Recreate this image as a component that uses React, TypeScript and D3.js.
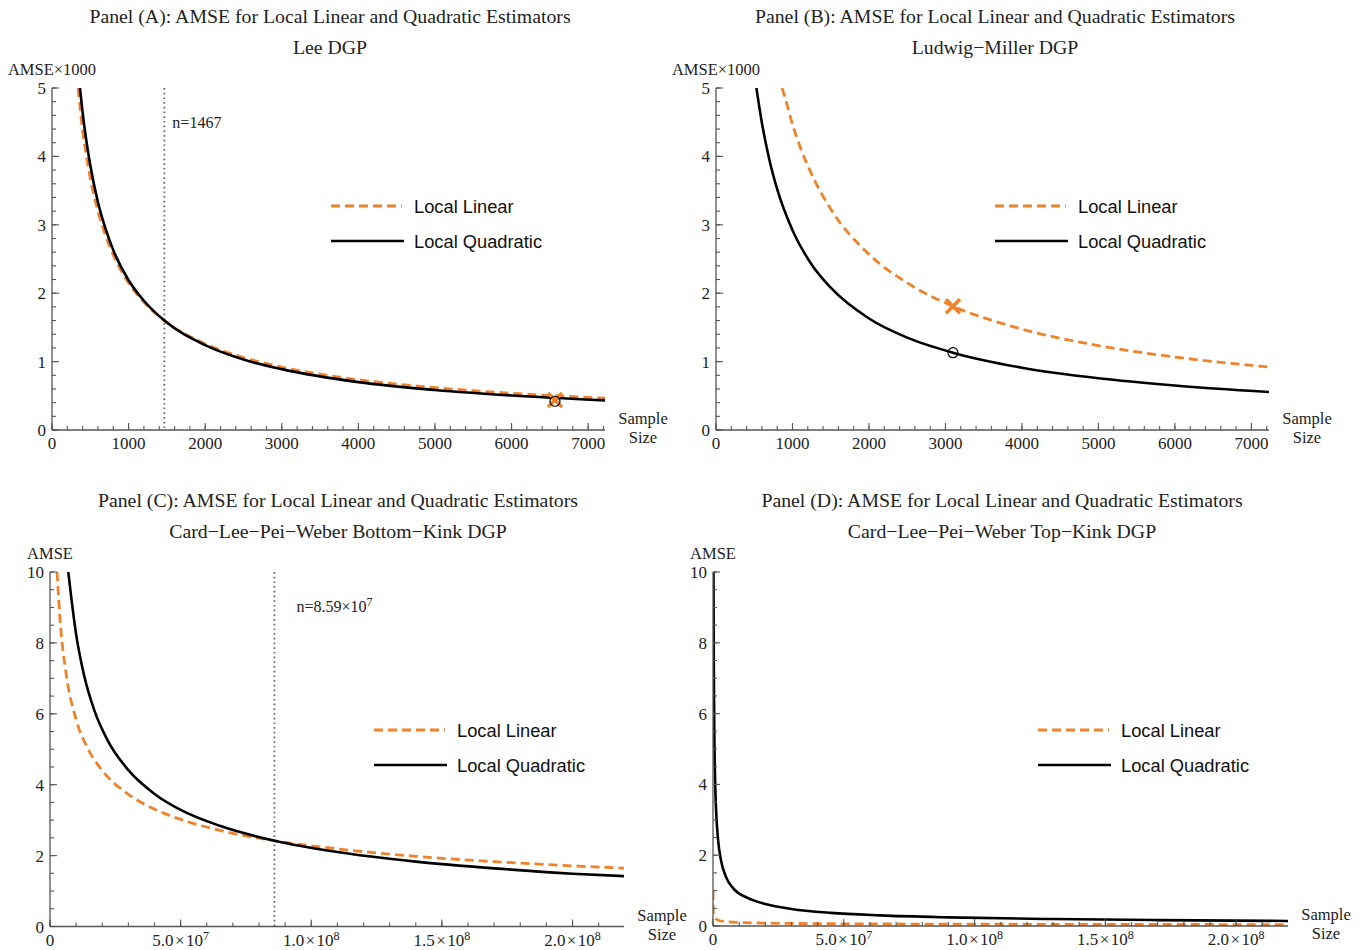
import React from "react";
import * as d3 from "d3";

const ORANGE = "#F0822A";
const AXIS = "#555";

// Panel A: Lee DGP, AMSE x 1000 against sample size
const leeLinear: [number, number][] = [
  [340, 5.0], [400, 4.38], [450, 4.0], [500, 3.68], [600, 3.2], [700, 2.84], [800, 2.56],
  [1000, 2.15], [1200, 1.87], [1467, 1.6], [2000, 1.26], [2500, 1.06], [3000, 0.92],
  [4000, 0.735], [5000, 0.62], [6000, 0.537], [7220, 0.465],
];
const leeQuad: [number, number][] = [
  [365, 5.0], [400, 4.64], [450, 4.22], [500, 3.87], [600, 3.33], [700, 2.94], [800, 2.63],
  [1000, 2.19], [1200, 1.89], [1467, 1.6], [2000, 1.24], [2500, 1.03], [3000, 0.89],
  [4000, 0.7], [5000, 0.585], [6000, 0.504], [7220, 0.433],
];
const leeMarker = { n: 6567, linear: 0.44, quad: 0.42 };

// Panel B: Ludwig-Miller DGP
const lmLinear: [number, number][] = [
  [863, 5.0], [900, 4.87], [1000, 4.47], [1100, 4.14], [1250, 3.74], [1500, 3.23],
  [2000, 2.57], [2500, 2.15], [3098, 1.81], [4000, 1.475], [5000, 1.234], [6000, 1.067],
  [7230, 0.92],
];
const lmQuad: [number, number][] = [
  [528, 5.0], [600, 4.49], [700, 3.94], [800, 3.52], [1000, 2.92], [1250, 2.42],
  [1500, 2.08], [2000, 1.63], [2500, 1.35], [3098, 1.13], [4000, 0.91], [5000, 0.756],
  [6000, 0.65], [7230, 0.555],
];
const lmMarker = { n: 3098, linear: 1.81, quad: 1.13 };

// Panel C: Card-Lee-Pei-Weber bottom-kink DGP
const bottomLinear: [number, number][] = [
  [2.7e6, 10.0], [4e6, 8.51], [6e6, 7.21], [1e7, 5.84], [1.5e7, 4.95], [2e7, 4.4],
  [3e7, 3.73], [4e7, 3.31], [5e7, 3.02], [6.5e7, 2.71], [8.59e7, 2.42], [1.1e8, 2.19],
  [1.4e8, 1.98], [1.7e8, 1.83], [2.0e8, 1.71], [2.2e8, 1.645],
];
const bottomQuad: [number, number][] = [
  [7.0e6, 10.0], [8e6, 9.37], [1e7, 8.24], [1.3e7, 7.1], [1.7e7, 6.09], [2.2e7, 5.26],
  [3e7, 4.41], [4e7, 3.74], [5e7, 3.29], [6.5e7, 2.84], [8.59e7, 2.42], [1.1e8, 2.1],
  [1.4e8, 1.83], [1.7e8, 1.64], [2.0e8, 1.49], [2.2e8, 1.42],
];

// Panel D: Card-Lee-Pei-Weber top-kink DGP
const topLinear: [number, number][] = [
  [5e3, 0.99], [2e4, 0.65], [1e5, 0.4], [5e5, 0.25], [2e6, 0.164], [5e6, 0.124],
  [1.2e7, 0.096], [3e7, 0.073], [6e7, 0.059], [1e8, 0.051], [1.5e8, 0.045], [2.2e8, 0.04],
];
const topQuad: [number, number][] = [
  [1.9e5, 10.0], [3e5, 7.47], [5e5, 5.5], [8e5, 4.15], [1.2e6, 3.25], [2e6, 2.39],
  [3e6, 1.88], [5e6, 1.38], [8e6, 1.04], [1.3e7, 0.8], [2e7, 0.62], [3e7, 0.48],
  [4.5e7, 0.37], [6.38e7, 0.3], [9e7, 0.244], [1.3e8, 0.196], [1.7e8, 0.167], [2.2e8, 0.143],
];

const smallXTicks = [0, 1000, 2000, 3000, 4000, 5000, 6000, 7000];
const bigXTicks = [0, 5e7, 1e8, 1.5e8, 2e8];
const bigXLabels = [["0", ""], ["5.0\u200a×\u200a10", "7"], ["1.0\u200a×\u200a10", "8"], ["1.5\u200a×\u200a10", "8"], ["2.0\u200a×\u200a10", "8"]];
const yTicks5 = [0, 1, 2, 3, 4, 5];
const yTicks10 = [0, 2, 4, 6, 8, 10];

type PanelProps = {
  id: string;
  box: { left: number; right: number; top: number; bottom: number };
  xMax: number;
  yMax: number;
  xTicks: number[];
  xLabels: string[][];
  xMinor: number;
  yTicks: number[];
  yMinor: number;
  title: string;
  subtitle: string;
  titleX: number;
  yLabel: string;
  linear: [number, number][];
  quad: [number, number][];
  legend: { x: number; y: number };
  vline?: { n: number; label: string; sup?: string; dx: number };
  marker?: { n: number; linear: number; quad: number };
};

const Panel = (p: PanelProps) => {
  const { left, right, top, bottom } = p.box;
  const x = d3.scaleLinear().domain([0, p.xMax]).range([left, right]);
  const y = d3.scaleLinear().domain([0, p.yMax]).range([bottom, top]);
  const line = d3
    .line<[number, number]>()
    .x((d) => x(d[0]))
    .y((d) => y(d[1]))
    .curve(d3.curveMonotoneX);
  const xMinor = d3.range(0, p.xMax + 1e-9, p.xMinor);
  const yMinor = d3.range(0, p.yMax + 1e-9, p.yMinor);
  const serif = "'Liberation Serif', 'Times New Roman', serif";
  const sans = "'Liberation Sans', Arial, sans-serif";

  return (
    <g>
      <defs>
        <clipPath id={`clip-${p.id}`}>
          <rect x={left} y={top} width={right - left} height={bottom - top} />
        </clipPath>
      </defs>
      <text x={p.titleX} y={top - 65} textAnchor="middle" fontFamily={serif} fontSize={19.8} fill="#222">
        {p.title}
      </text>
      <text x={p.titleX} y={top - 34} textAnchor="middle" fontFamily={serif} fontSize={19.8} fill="#222">
        {p.subtitle}
      </text>

      {p.vline && (
        <g>
          <line
            x1={x(p.vline.n)} x2={x(p.vline.n)} y1={top} y2={bottom}
            stroke="#666" strokeWidth={1.7} strokeDasharray="1.7 3"
          />
          <text x={x(p.vline.n) + p.vline.dx} y={top + 40} fontFamily={serif} fontSize={16} fill="#222">
            {p.vline.label}
            {p.vline.sup && <tspan dy={-6} fontSize={12}>{p.vline.sup}</tspan>}
          </text>
        </g>
      )}

      <g clipPath={`url(#clip-${p.id})`}>
        <path d={line(p.linear) ?? ""} fill="none" stroke={ORANGE} strokeWidth={2.8} strokeDasharray="9 5" />
        <path d={line(p.quad) ?? ""} fill="none" stroke="#000" strokeWidth={2.6} />
      </g>

      {p.marker && (
        <g>
          <g stroke={ORANGE} strokeWidth={3.5} strokeLinecap="butt">
            <line x1={x(p.marker.n) - 7} x2={x(p.marker.n) + 7} y1={y(p.marker.linear) - 7} y2={y(p.marker.linear) + 7} />
            <line x1={x(p.marker.n) - 7} x2={x(p.marker.n) + 7} y1={y(p.marker.linear) + 7} y2={y(p.marker.linear) - 7} />
          </g>
          <circle cx={x(p.marker.n)} cy={y(p.marker.quad)} r={5} fill="none" stroke="#000" strokeWidth={1.2} />
        </g>
      )}

      {/* axes */}
      <line x1={left} x2={right} y1={bottom} y2={bottom} stroke={AXIS} strokeWidth={1.3} />
      <line x1={left} x2={left} y1={top} y2={bottom} stroke={AXIS} strokeWidth={1.3} />
      {xMinor.map((t) => (
        <line key={`xm${t}`} x1={x(t)} x2={x(t)} y1={bottom} y2={bottom - 4} stroke={AXIS} strokeWidth={1.1} />
      ))}
      {p.xTicks.map((t) => (
        <line key={`xM${t}`} x1={x(t)} x2={x(t)} y1={bottom} y2={bottom - 7} stroke={AXIS} strokeWidth={1.1} />
      ))}
      {p.xTicks.map((t, i) => (
        <text key={`xl${t}`} x={x(t)} y={bottom + 19} textAnchor="middle" fontFamily={serif} fontSize={17} fill="#222">
          {p.xLabels[i][0]}
          {p.xLabels[i][1] && <tspan dy={-6} fontSize={12}>{p.xLabels[i][1]}</tspan>}
        </text>
      ))}
      {yMinor.map((t) => (
        <line key={`ym${t}`} x1={left} x2={left + 4} y1={y(t)} y2={y(t)} stroke={AXIS} strokeWidth={1.1} />
      ))}
      {p.yTicks.map((t) => (
        <line key={`yM${t}`} x1={left} x2={left + 7} y1={y(t)} y2={y(t)} stroke={AXIS} strokeWidth={1.1} />
      ))}
      {p.yTicks.map((t) => (
        <text key={`yl${t}`} x={left - 6} y={y(t) + 6} textAnchor="end" fontFamily={serif} fontSize={17} fill="#222">
          {t}
        </text>
      ))}
      <text x={left} y={top - 13} textAnchor="middle" fontFamily={serif} fontSize={16.5} fill="#222">
        {p.yLabel}
      </text>
      <text x={right + 38} y={bottom - 6} textAnchor="middle" fontFamily={serif} fontSize={16.5} fill="#222">
        Sample
      </text>
      <text x={right + 38} y={bottom + 13} textAnchor="middle" fontFamily={serif} fontSize={16.5} fill="#222">
        Size
      </text>

      {/* legend */}
      <line x1={p.legend.x} x2={p.legend.x + 71} y1={p.legend.y} y2={p.legend.y} stroke={ORANGE} strokeWidth={2.8} strokeDasharray="9 5" />
      <text x={p.legend.x + 83} y={p.legend.y + 6.5} fontFamily={sans} fontSize={18.3} fill="#111">
        Local Linear
      </text>
      <line x1={p.legend.x} x2={p.legend.x + 73} y1={p.legend.y + 35} y2={p.legend.y + 35} stroke="#000" strokeWidth={2.6} />
      <text x={p.legend.x + 83} y={p.legend.y + 41.5} fontFamily={sans} fontSize={18.3} fill="#111">
        Local Quadratic
      </text>
    </g>
  );
};

const smallLabels = smallXTicks.map((t) => [String(t), ""]);
const title = "Panel (%): AMSE for Local Linear and Quadratic Estimators";

export default function App() {
  return (
    <svg width={1368} height={950} style={{ display: "block", position: "absolute", left: 0, top: 0, background: "#fff" }}>
      <Panel
        id="a" box={{ left: 52, right: 605, top: 88, bottom: 430 }} xMax={7220} yMax={5}
        xTicks={smallXTicks} xLabels={smallLabels} xMinor={200} yTicks={yTicks5} yMinor={0.2}
        title={title.replace("%", "A")} subtitle="Lee DGP" titleX={330} yLabel="AMSE×1000"
        linear={leeLinear} quad={leeQuad} legend={{ x: 331, y: 206 }}
        vline={{ n: 1467, label: "n=1467", dx: 8 }} marker={leeMarker}
      />
      <Panel
        id="b" box={{ left: 716, right: 1269, top: 88, bottom: 430 }} xMax={7230} yMax={5}
        xTicks={smallXTicks} xLabels={smallLabels} xMinor={200} yTicks={yTicks5} yMinor={0.2}
        title={title.replace("%", "B")} subtitle="Ludwig−Miller DGP" titleX={995} yLabel="AMSE×1000"
        linear={lmLinear} quad={lmQuad} legend={{ x: 995, y: 206 }} marker={lmMarker}
      />
      <Panel
        id="c" box={{ left: 50, right: 624, top: 572, bottom: 926.5 }} xMax={2.197e8} yMax={10}
        xTicks={bigXTicks} xLabels={bigXLabels} xMinor={1e7} yTicks={yTicks10} yMinor={0.5}
        title={title.replace("%", "C")} subtitle="Card−Lee−Pei−Weber Bottom−Kink DGP" titleX={338} yLabel="AMSE"
        linear={bottomLinear} quad={bottomQuad} legend={{ x: 374, y: 730 }}
        vline={{ n: 8.59e7, label: "n=8.59×10", sup: "7", dx: 22 }}
      />
      <Panel
        id="d" box={{ left: 713, right: 1288, top: 572, bottom: 926 }} xMax={2.198e8} yMax={10}
        xTicks={bigXTicks} xLabels={bigXLabels} xMinor={1e7} yTicks={yTicks10} yMinor={0.5}
        title={title.replace("%", "D")} subtitle="Card−Lee−Pei−Weber Top−Kink DGP" titleX={1002} yLabel="AMSE"
        linear={topLinear} quad={topQuad} legend={{ x: 1038, y: 730 }}
      />
    </svg>
  );
}
